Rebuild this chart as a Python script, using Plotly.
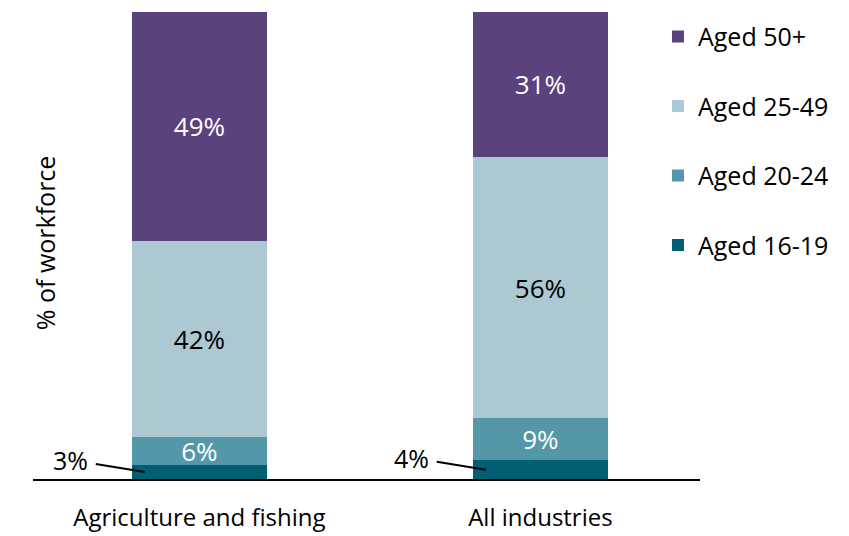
import plotly.graph_objects as go

# Workforce age mix by sector (% of workforce)
categories = ["Agriculture and fishing", "All industries"]
aged_16_19 = [3, 4]
aged_20_24 = [6, 9]
aged_25_49 = [42, 56]
aged_50_plus = [49, 31]

series = [
    ("Aged 16-19", aged_16_19, "#005f71", "white", False),
    ("Aged 20-24", aged_20_24, "#5497a9", "white", True),
    ("Aged 25-49", aged_25_49, "#abc8d3", "black", True),
    ("Aged 50+", aged_50_plus, "#5a437c", "white", True),
]

FONT = "Open Sans"
xpos = list(range(len(categories)))

fig = go.Figure()
for i, (name, vals, color, tcolor, show_text) in enumerate(series):
    fig.add_trace(go.Bar(
        x=xpos, y=vals, name=name, legendgroup=name,
        legendrank=len(series) - i,
        marker=dict(color=color, line=dict(width=0)),
        width=0.396,
        text=[f"{v}%" for v in vals] if show_text else None,
        textposition="inside" if show_text else "none",
        insidetextanchor="middle",
        constraintext="none",
        textangle=0,
        textfont=dict(color=tcolor, size=26, family=FONT),
        hoverinfo="skip",
    ))

# Small youngest-group values labelled outside the bar with a leader line
for i, v in enumerate(aged_16_19):
    fig.add_annotation(
        x=i - 0.16, y=v / 2, xref="x", yref="y",
        text=f"{v}%", showarrow=True, arrowhead=0, arrowwidth=2,
        arrowcolor="black", ax=-74, ay=-12, standoff=0, startstandoff=6,
        font=dict(size=25, color="black", family=FONT),
    )

fig.add_annotation(
    x=(45 - 33) / 667, y=0.505, xref="paper", yref="paper",
    xanchor="center", yanchor="middle",
    text="% of workforce", textangle=-90, showarrow=False,
    font=dict(size=25, color="black", family=FONT),
)

fig.update_layout(
    barmode="stack",
    width=849, height=536,
    margin=dict(l=33, r=149, t=12, b=57),
    paper_bgcolor="white", plot_bgcolor="white",
    font=dict(family=FONT, size=24, color="black"),
    showlegend=True,
    legend=dict(
        traceorder="grouped", tracegroupgap=34,
        x=0.937, xanchor="left", y=0.996, yanchor="top",
        font=dict(size=25, family=FONT, color="black"),
        bgcolor="rgba(0,0,0,0)",
    ),
    xaxis=dict(
        range=[-0.488, 1.468], tickvals=xpos, ticktext=categories,
        showline=True, linecolor="black", linewidth=2,
        showgrid=False, zeroline=False, ticks="",
        ticklabelstandoff=16, automargin=False,
        tickfont=dict(size=24, family=FONT),
    ),
    yaxis=dict(
        range=[0, 100], showticklabels=False, showgrid=False,
        zeroline=False, showline=False, ticks="", automargin=False,
    ),
)

fig.write_html("out.html")
